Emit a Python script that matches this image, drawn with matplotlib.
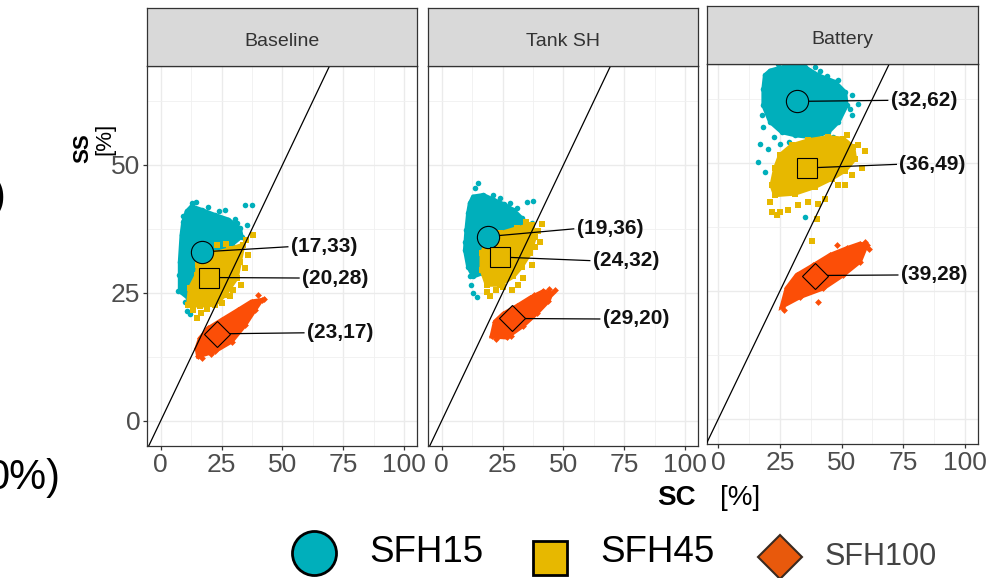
import matplotlib
matplotlib.use('Agg')
import matplotlib.pyplot as plt

plt.rcParams['font.family'] = ['Liberation Sans', 'DejaVu Sans']

# ---------------- data ----------------
panels = ['Baseline', 'Tank SH', 'Battery']
groups = ['SFH15', 'SFH45', 'SFH100']

mean_sc_baseline = [17, 20, 23]
mean_ss_baseline = [33, 28, 17]
mean_sc_tank = [19, 24, 29]
mean_ss_tank = [36, 32, 20]
mean_sc_battery = [32, 36, 39]
mean_ss_battery = [62, 49, 28]

x_ticks = [0, 25, 50, 75, 100]
y_ticks = [0, 25, 50]

# cloud outlines (SC, SS), plus scattered points
base15_edge = [(10.7, 40.9), (12.7, 41.9), (16.8, 41.2), (22.3, 40.2), (27.8, 39.3), (32.5, 37.6),
               (33.2, 36.0), (29.1, 34.4), (25.0, 31.8), (20.9, 27.2), (16.8, 24.6), (11.3, 24.0),
               (7.9, 25.3), (7.9, 31.1), (8.6, 36.3), (9.3, 38.9)]
base15_pts = [(12.7, 42.5), (34.6, 42.2), (37.6, 42.2), (26.4, 41.2), (19.6, 41.8), (35.3, 38.3),
              (31.2, 38.6), (29.1, 37.0), (10.0, 23.2), (10.7, 21.4), (12.0, 20.8), (7.2, 25.3),
              (16.8, 23.8), (14.5, 42.8), (24.0, 40.9), (9.0, 40.0), (7.5, 28.5), (30.5, 39.5),
              (13.5, 23.0)]
base45_edge = [(22.3, 32.7), (28.0, 33.5), (33.9, 34.4), (32.5, 31.0), (31.2, 27.9), (26.4, 24.6),
               (22.3, 22.7), (16.0, 22.5), (11.3, 22.7), (12.0, 25.9), (14.8, 28.5), (15.4, 30.5),
               (19.6, 32.4)]
base45_pts = [(38.0, 36.3), (36.0, 32.4), (34.6, 29.8), (29.8, 25.6), (28.4, 24.3), (25.0, 23.0),
              (14.8, 20.0), (13.4, 21.7), (16.5, 21.0), (23.0, 34.4), (27.0, 34.6), (35.0, 35.3),
              (33.0, 26.5), (19.0, 21.8), (12.5, 24.0)]
base100_edge = [(15.4, 12.6), (22.3, 13.6), (29.1, 15.5), (34.6, 18.7), (38.7, 21.7), (41.4, 23.6),
                (37.3, 23.3), (31.9, 21.7), (25.0, 19.7), (19.6, 18.1), (16.1, 16.1), (14.8, 14.2)]
base100_pts = [(40.0, 24.5), (42.3, 23.8), (36.5, 22.8), (17.0, 12.3), (20.5, 13.0), (33.0, 20.8)]

tank15_edge = [(13.0, 43.8), (17.1, 44.1), (21.2, 43.2), (25.5, 42.3), (29.4, 41.2), (32.8, 39.6),
               (32.8, 37.6), (26.7, 33.4), (21.2, 30.8), (16.4, 28.8), (13.0, 28.2), (10.9, 30.1),
               (9.6, 33.4), (10.2, 37.3), (10.9, 40.6), (11.6, 42.5)]
tank15_pts = [(15.0, 46.4), (13.7, 45.4), (21.2, 44.1), (28.0, 42.5), (34.9, 42.8), (37.6, 43.0),
              (36.9, 38.6), (11.6, 28.2), (13.0, 24.9), (14.4, 24.1), (12.0, 26.5), (24.0, 43.5),
              (31.0, 41.5), (9.5, 35.0)]
tank45_edge = [(23.9, 36.6), (30.8, 37.6), (36.9, 38.3), (38.3, 36.0), (36.2, 32.7), (32.8, 30.1),
               (29.4, 28.2), (23.9, 26.6), (18.5, 26.6), (16.4, 29.5), (16.4, 32.7), (19.1, 35.3),
               (21.2, 36.3)]
tank45_pts = [(41.0, 38.5), (40.4, 35.0), (38.3, 34.0), (36.9, 30.5), (33.5, 27.9), (31.5, 26.6),
              (28.7, 25.6), (25.3, 26.2), (19.8, 24.3), (18.5, 25.1), (22.5, 25.5), (39.5, 37.0),
              (34.5, 38.8)]
tank100_edge = [(20.5, 16.5), (26.7, 16.3), (33.5, 18.6), (39.0, 21.0), (43.8, 23.4), (45.1, 24.9),
                (41.7, 25.3), (36.2, 24.0), (30.8, 22.4), (25.3, 20.9), (21.9, 19.4)]
tank100_pts = [(46.5, 25.6), (44.0, 25.8), (22.5, 16.0), (28.5, 16.6), (38.0, 24.6)]

batt15_edge = [(21.0, 68.0), (28.4, 69.0), (35.1, 68.7), (40.5, 67.1), (47.3, 65.8), (51.4, 63.8),
               (52.0, 61.2), (48.7, 58.0), (44.6, 56.0), (37.9, 55.0), (31.1, 55.4), (25.7, 56.0),
               (21.0, 58.0), (18.3, 61.2), (18.3, 64.5), (18.9, 67.1)]
batt15_pts = [(20.3, 67.4), (39.2, 68.7), (41.2, 68.0), (48.7, 66.1), (54.1, 63.2), (56.8, 61.5),
              (54.1, 59.3), (17.6, 59.3), (18.3, 57.0), (16.9, 53.7), (25.0, 53.7), (20.3, 52.8),
              (16.2, 50.2), (18.9, 48.2), (50.0, 53.1), (46.6, 55.0), (35.1, 39.4), (30.0, 69.6),
              (24.0, 69.3), (44.0, 67.0), (53.5, 60.5), (22.5, 55.0), (28.5, 54.0), (41.5, 54.5)]
batt45_edge = [(25.0, 51.5), (29.7, 53.4), (36.5, 54.4), (44.6, 55.0), (50.7, 54.7), (54.7, 53.1),
               (55.4, 50.8), (51.4, 48.5), (46.0, 46.9), (39.2, 45.3), (31.1, 44.0), (23.0, 43.7),
               (21.6, 45.6), (23.0, 48.9)]
batt45_pts = [(56.8, 53.4), (59.5, 52.4), (58.1, 48.9), (54.1, 47.6), (51.4, 45.6), (48.7, 45.6),
              (43.3, 43.0), (40.6, 42.0), (36.5, 42.4), (39.9, 39.1), (28.4, 40.7), (25.0, 40.4),
              (21.6, 40.4), (23.7, 39.9), (21.0, 42.4), (32.4, 41.7), (38.1, 34.8), (52.0, 55.5)]
batt100_edge = [(25.7, 21.9), (33.1, 23.8), (42.6, 25.5), (50.7, 28.1), (57.4, 30.7), (60.1, 33.9),
                (57.4, 34.2), (52.0, 33.3), (45.3, 32.0), (38.5, 30.0), (31.8, 28.1), (27.7, 25.5)]
batt100_pts = [(40.6, 22.9), (59.5, 34.5), (48.0, 33.9), (26.5, 21.2), (61.0, 33.2)]

# ---------------- styles / layout ----------------
colors = ['#00AFBB', '#E7B800', '#FC4E07']
big_markers = ['o', 's', 'D']
big_sizes = [16, 15, 13.7]
small_markers = ['o', 's', 'D']
small_sizes = [16, 13, 12]

W, H = 994, 578
fig = plt.figure(figsize=(W / 100, H / 100), dpi=100)

panel_px = [(147, 417, 66, 446), (427.5, 697.5, 66, 446), (707, 978, 64, 444)]
xlims = [(-5.6, 105.2), (-5.8, 105.0), (-4.6, 105.3)]
ylim = (-4.9, 69.3)
# label anchor positions (SC, SS) for each panel / group
label_pos = [
    [(53.4, 34.0), (58.0, 27.9), (60.0, 17.2)],
    [(55.4, 37.5), (62.0, 31.3), (66.1, 19.9)],
    [(69.9, 62.2), (73.4, 49.7), (74.0, 28.1)],
]

means_sc = [mean_sc_baseline, mean_sc_tank, mean_sc_battery]
means_ss = [mean_ss_baseline, mean_ss_tank, mean_ss_battery]
clouds = [
    [(base15_edge, base15_pts), (base45_edge, base45_pts), (base100_edge, base100_pts)],
    [(tank15_edge, tank15_pts), (tank45_edge, tank45_pts), (tank100_edge, tank100_pts)],
    [(batt15_edge, batt15_pts), (batt45_edge, batt45_pts), (batt100_edge, batt100_pts)],
]

border = '#333333'
tick_col = '#4D4D4D'

for i, name in enumerate(panels):
    x0, x1, y0, y1 = panel_px[i]
    ax = fig.add_axes([x0 / W, 1 - y1 / H, (x1 - x0) / W, (y1 - y0) / H])
    ax.set_xlim(*xlims[i])
    ax.set_ylim(*ylim)
    ax.set_xticks(x_ticks)
    ax.set_xticks([12.5, 37.5, 62.5, 87.5], minor=True)
    ax.set_yticks(y_ticks)
    ax.set_yticks([12.5, 37.5, 62.5], minor=True)
    ax.grid(True, which='major', color='#EBEBEB', lw=1.0, zorder=0)
    ax.grid(True, which='minor', color='#F0F0F0', lw=0.6, zorder=0)
    ax.set_axisbelow(True)
    for sp in ax.spines.values():
        sp.set_color(border)
        sp.set_linewidth(0.9)
    ax.tick_params(axis='x', which='major', length=3.2, width=0.9, color=border,
                   labelsize=19, labelcolor=tick_col, pad=2)
    ax.tick_params(axis='both', which='minor', length=0)
    if i == 0:
        ax.tick_params(axis='y', which='major', length=3.2, width=0.9, color=border,
                       labelsize=19, labelcolor=tick_col, pad=1.5)
    else:
        ax.tick_params(axis='y', which='major', length=0, labelleft=False)

    # clouds
    for g in range(3):
        edge, pts = clouds[i][g]
        ex = [p[0] for p in edge]
        ey = [p[1] for p in edge]
        ax.fill(ex, ey, color=colors[g], lw=3, ec=colors[g], zorder=2 + g * 0.1)
        px = ex + [p[0] for p in pts]
        py = ey + [p[1] for p in pts]
        ax.scatter(px, py, s=small_sizes[g], marker=small_markers[g], color=colors[g],
                   lw=0, zorder=2.05 + g * 0.1)

    ax.axline((0, 0), slope=1, color='black', lw=0.9, zorder=4)

    for g in range(3):
        sc, ss = means_sc[i][g], means_ss[i][g]
        lx, ly = label_pos[i][g]
        ax.plot([sc, lx - 1.2], [ss, ly], color='black', lw=0.9, zorder=5)
        ax.plot([sc], [ss], marker=big_markers[g], ms=big_sizes[g], mfc=colors[g],
                mec='black', mew=0.8, ls='none', zorder=6)
        ax.text(lx, ly, f'({sc},{ss})', ha='left', va='center', fontsize=15,
                fontweight='bold', color='#111111', zorder=7)

    # facet strip
    sy0 = 8 if i < 2 else 6
    sax = fig.add_axes([x0 / W, 1 - y0 / H, (x1 - x0) / W, (y0 - sy0) / H])
    sax.set_facecolor('#D9D9D9')
    sax.set_xticks([])
    sax.set_yticks([])
    for sp in sax.spines.values():
        sp.set_color(border)
        sp.set_linewidth(0.9)
    sax.text(0.5, 0.42, name, ha='center', va='center', fontsize=14, color='#333333',
             transform=sax.transAxes)

# axis titles
fig.text(83 / W, 1 - 148 / H, 'SS', rotation=90, ha='center', va='center',
         fontsize=16, fontweight='bold')
fig.text(105 / W, 1 - 139 / H, '[%]', rotation=90, ha='center', va='center', fontsize=16)
fig.text(676 / W, 1 - 498 / H, 'SC', ha='center', va='center', fontsize=20, fontweight='bold')
fig.text(740 / W, 1 - 498 / H, '[%]', ha='center', va='center', fontsize=20)

# cropped text remnants at left edge (as in the reference)
fig.text(6 / W, 1 - 197 / H, ')', ha='right', va='center', fontsize=30)
fig.text(60 / W, 1 - 478 / H, '0%)', ha='right', va='center', fontsize=30)

# legend (keys drawn on an overlay in pixel units)
lax = fig.add_axes([0, 0, 1, 1])
lax.set_xlim(0, W)
lax.set_ylim(H, 0)
lax.axis('off')
key_x = [314, 549.5, 780]
key_y = [553, 558, 557]
key_ms = [31.7, 25, 22.4]
key_fc = [colors[0], colors[1], '#E8590C']
key_ec = ['black', 'black', '#3a2a20']
key_mew = [2.0, 2.0, 1.5]
text_x = [369, 600, 825]
text_y = [553, 553, 557]
text_fs = [26.5, 26.5, 22]
text_col = ['black', 'black', '#444444']
for g in range(3):
    lax.plot([key_x[g]], [key_y[g]], marker=big_markers[g], ms=key_ms[g], mfc=key_fc[g],
             mec=key_ec[g], mew=key_mew[g], ls='none', clip_on=False)
    lax.text(text_x[g], text_y[g], groups[g], ha='left', va='center', fontsize=text_fs[g],
             color=text_col[g])

fig.savefig('out.png', dpi=100)
